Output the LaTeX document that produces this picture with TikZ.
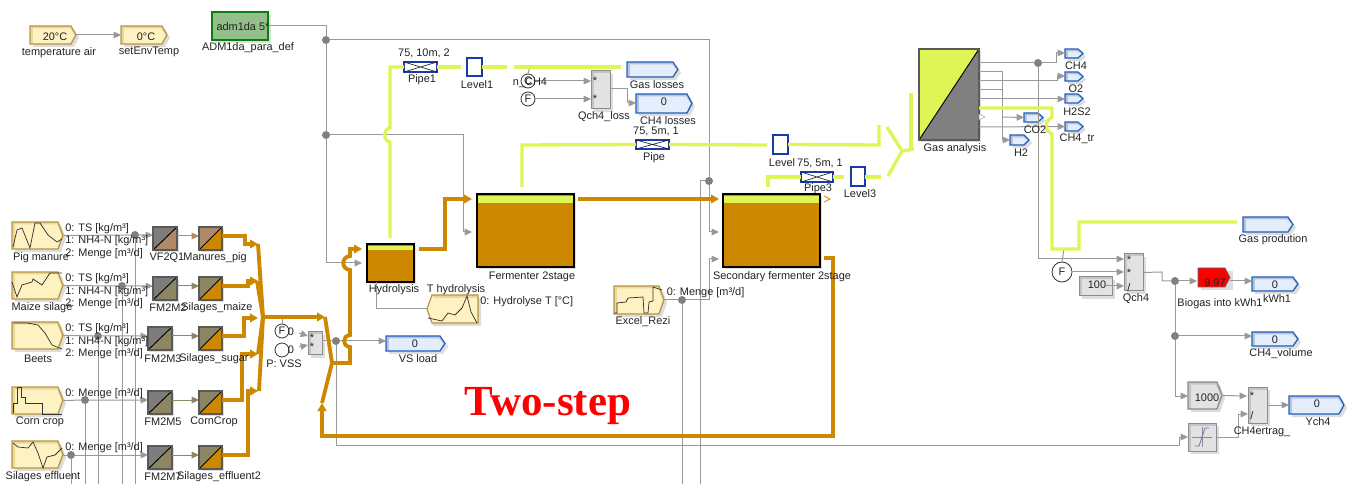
\documentclass[tikz,border=0pt]{standalone}
\usepackage{fontspec}
\setmainfont{Liberation Sans}
\newfontfamily\twofont{Liberation Serif}
\usetikzlibrary{arrows.meta}
\definecolor{gasc}{HTML}{DFF455}
\definecolor{orc}{HTML}{CC8800}
\definecolor{sigc}{HTML}{999999}
\definecolor{dotc}{HTML}{808080}
\definecolor{txtc}{HTML}{222222}
\definecolor{shad}{HTML}{DDDDDD}
\definecolor{srcf}{HTML}{FFF2C2}
\definecolor{srcb}{HTML}{EAD79E}
\definecolor{srcd}{HTML}{B8963E}
\definecolor{dspf}{HTML}{E4EDFB}
\definecolor{dspb}{HTML}{B9C3D6}
\definecolor{dspd}{HTML}{1F5FC0}
\definecolor{grayf}{HTML}{E2E2E2}
\definecolor{grayb}{HTML}{C4C4C4}
\definecolor{grayd}{HTML}{8C8C8C}
\definecolor{pipeb}{HTML}{1A3AA8}
\definecolor{brownc}{HTML}{B08A68}
\definecolor{olivec}{HTML}{8C8662}
\definecolor{darkg}{HTML}{7D7D7D}
\definecolor{admf}{HTML}{93C08A}
\definecolor{admd}{HTML}{0A7D10}
\tikzset{
  x=0.75pt,y=-0.75pt,
  lab/.style={font=\fontsize{8.2}{9}\selectfont,text=txtc,inner sep=0pt,yshift=-1pt},
  sig/.style={draw=sigc,line width=0.75pt},
  sigar/.style={sig,-{Triangle[length=5.5pt,width=5pt,fill=sigc]}},
  gasl/.style={draw=gasc,line width=2.5pt},
  liq/.style={draw=orc,line width=2.9pt},
  liqar/.style={liq,-{Triangle[length=6pt,width=6.5pt,fill=orc]}},
  sparkl/.style={draw=black!80,line width=0.55pt},
  jdot/.style={circle,fill=dotc,inner sep=0pt,minimum size=6pt,outer sep=0pt},
  ring/.style={circle,draw=black!80,fill=white,line width=0.6pt,inner sep=0pt,minimum size=#1,font=\fontsize{8.2}{9}\selectfont,text=txtc},
  anch/.style={inner sep=0pt,outer sep=0pt},
}
\newcounter{lbn}
\newcommand\lbl[3]{\stepcounter{lbn}\node[lab] (t\arabic{lbn}) at (#1,#2) {#3};}
\newcommand\lbw[3]{\stepcounter{lbn}\node[lab,anchor=west] (t\arabic{lbn}) at (#1,#2) {#3};}
\newcommand\anode[5]{\node[anch,minimum width={(#4-#2)*0.75pt},minimum height={(#5-#3)*0.75pt}] (#1) at ({(#2+#4)/2},{(#3+#5)/2}) {};}
% pentagon pointing right: name x1 y1 x2 y2 fill band draw
\newcommand\pentR[8]{%
  \fill[shad] ({#2+3},{#3+3}) -- ({#4-2},{#3+3}) -- ({#4+3},{(#3+#5)/2+3}) -- ({#4-2},{#5+3}) -- ({#2+3},{#5+3}) -- cycle;
  \fill[#7] (#2,#3) -- ({#4-5},#3) -- (#4,{(#3+#5)/2}) -- ({#4-5},#5) -- (#2,#5) -- cycle;
  \fill[#6] ({#2+3},{#3+2.5}) -- ({#4-6},{#3+2.5}) -- ({#4-1.5},{(#3+#5)/2}) -- ({#4-6},#5) -- ({#2+3},#5) -- cycle;
  \draw[#8,line width=0.9pt] (#2,#3) -- ({#4-5},#3) -- (#4,{(#3+#5)/2}) -- ({#4-5},#5) -- (#2,#5) -- cycle;
  \anode{#1}{#2}{#3}{#4}{#5}}
\newcommand\srcb[5]{\pentR{#1}{#2}{#3}{#4}{#5}{srcf}{srcb}{srcd}}
\newcommand\dspb[5]{\pentR{#1}{#2}{#3}{#4}{#5}{dspf}{dspb}{dspd}}
\newcommand\grayp[5]{\pentR{#1}{#2}{#3}{#4}{#5}{grayf}{grayb}{grayd}}
% plain rectangle with band and shadow
\newcommand\rblk[8]{%
  \fill[shad] ({#2+3},{#3+3}) rectangle ({#4+3},{#5+3});
  \fill[#7] (#2,#3) rectangle (#4,#5);
  \fill[#6] ({#2+3},{#3+2.5}) rectangle (#4,#5);
  \draw[#8,line width=0.75pt] (#2,#3) rectangle (#4,#5);
  \anode{#1}{#2}{#3}{#4}{#5}}
\newcommand\grayr[5]{\rblk{#1}{#2}{#3}{#4}{#5}{grayf}{grayb}{grayd}}
% diagonal split block
\newcommand\splitb[7]{%
  \fill[shad] ({#2+2},{#3+2}) rectangle ({#4+2},{#5+2});
  \fill[#6] (#2,#3) -- (#4,#3) -- (#2,#5) -- cycle;
  \fill[#7] (#4,#3) -- (#4,#5) -- (#2,#5) -- cycle;
  \draw[black,line width=0.7pt] (#2,#5) -- (#4,#3);
  \draw[black!65,line width=0.8pt] (#2,#3) rectangle (#4,#5);
  \anode{#1}{#2}{#3}{#4}{#5}}
% tank
\newcommand\tank[6]{%
  \fill[shad] ({#2+2},{#3+2}) rectangle ({#4+2},{#5+2});
  \fill[orc] (#2,#3) rectangle (#4,#5);
  \fill[gasc] (#2,{#3+2}) rectangle (#4,{#3+#6});
  \draw[black,line width=1.3pt] (#2,#3) rectangle (#4,#5);
  \anode{#1}{#2}{#3}{#4}{#5}}
\newcommand\levelb[5]{%
  \draw[pipeb,fill=white,line width=1.2pt] (#2,#3) rectangle (#4,#5);
  \anode{#1}{#2}{#3}{#4}{#5}}
\newcommand\pipeblk[5]{%
  \draw[pipeb,fill=white,line width=1.1pt] (#2,#3) rectangle (#4,#5);
  \draw[black!85,line width=0.5pt] (#2,#3) -- (#4,#5) (#2,#5) -- (#4,#3);
  \anode{#1}{#2}{#3}{#4}{#5}}
\begin{document}
\begin{tikzpicture}
\useasboundingbox (0,0) rectangle (1352,484);
% ---- junctions
\node[jdot] (d1) at (326,40) {};
\node[jdot] (d2) at (326,135) {};
\node[jdot] (d3) at (709,181) {};
\node[jdot] (d4) at (682,300) {};
\node[jdot] (d5) at (135,235) {};
\node[jdot] (d6) at (122,286) {};
\node[jdot] (d7) at (98,336) {};
\node[jdot] (d8) at (85,400) {};
\node[jdot] (d9) at (71,455) {};
\node[jdot] (d10) at (336,341) {};
\node[jdot] (d11) at (1038,63) {};
\node[jdot] (d12) at (1175,281) {};
\node[jdot] (d13) at (1175,336) {};
% ---- blocks
\srcb{tair}{30}{26}{76}{44}
\srcb{setenv}{121}{26}{167}{44}
\fill[shad] (215,15) rectangle (271,43);
\node[anch,draw=admd,fill=admf,line width=1.6pt,minimum width=42pt,minimum height=21pt] (adm) at (240,26) {};
\srcb{pig}{12}{222}{63}{249}
\srcb{maize}{12}{272}{63}{299}
\srcb{beets}{12}{322}{63}{349}
\srcb{corn}{12}{387}{63}{414}
\srcb{eff}{12}{441}{63}{468}
\srcb{excel}{614}{286}{664}{314}
% T hydrolysis (points left)
\fill[shad] (433,298) -- (481,298) -- (481,326) -- (433,326) -- (430,312) -- cycle;
\fill[srcf] (432,295) -- (478,295) -- (478,323) -- (432,323) -- (427,309) -- cycle;
\fill[srcb] (432,295) -- (478,295) -- (478,298) -- (434,298) -- cycle;
\draw[srcd,line width=0.9pt] (432,295) -- (478,295) -- (478,323) -- (432,323) -- (427,309) -- cycle;
\anode{thyd}{427}{295}{478}{323}
\splitb{vf}{153}{227}{177}{250}{darkg}{brownc}
\splitb{fm2}{153}{277}{177}{300}{darkg}{olivec}
\splitb{fm3}{148}{327}{172}{350}{darkg}{olivec}
\splitb{fm5}{148}{391}{172}{414}{darkg}{olivec}
\splitb{fm7}{148}{446}{172}{469}{darkg}{olivec}
\splitb{mpig}{199}{227}{222}{250}{brownc}{orc}
\splitb{smaize}{199}{277}{222}{300}{olivec}{orc}
\splitb{ssugar}{199}{327}{222}{350}{olivec}{orc}
\splitb{ccrop}{199}{391}{222}{414}{olivec}{orc}
\splitb{seff}{199}{446}{222}{469}{olivec}{orc}
\node[ring=10.5pt] (fv) at (282,331) {F};
\node[ring=10.5pt,fill=white] (pv) at (282,350) {};
\grayr{mv}{308}{332}{322}{355}
\tank{hyd}{367}{244}{414}{282}{6}
\tank{ferm}{477}{194}{574}{267}{9}
\tank{sec}{723}{194}{820}{267}{9}
\dspb{vsl}{386}{336}{445}{351}
\pipeblk{pipe1}{404}{62}{437}{72}
\levelb{lev1}{467}{58}{482}{76}
\dspb{gasl}{627}{62}{678}{77}
\node[ring=10.5pt] (cc) at (528,81) {C};
\node[ring=10.5pt] (fc) at (528,99) {F};
\grayr{ql}{591}{71}{610}{109}
\dspb{chl}{636}{94}{692}{113}
\pipeblk{pipe}{636}{140}{669}{149}
\levelb{lev}{773}{135}{788}{154}
\pipeblk{pipe3}{801}{172}{833}{182}
\levelb{lev3}{851}{167}{865}{186}
\splitb{ga}{919}{49}{979}{140}{gasc}{gray}
\dspb{ch4}{1065}{49}{1083}{58}
\dspb{o2}{1065}{72}{1083}{81}
\dspb{h2s}{1065}{94}{1083}{103}
\dspb{co2}{1024}{113}{1043}{122}
\dspb{ch4tr}{1065}{122}{1083}{131}
\dspb{h2}{1010}{135}{1029}{145}
\dspb{gprod}{1243}{217}{1293}{232}
\node[ring=15pt] (f2) at (1062,272) {F};
\grayr{c100}{1079}{277}{1112}{296}
\grayr{qch}{1124}{254}{1143}{291}
\fill[shad] (1201,271) rectangle (1233,290);
\fill[red] (1198,268) -- (1225,268) -- (1230,277.5) -- (1225,287) -- (1198,287) -- cycle;
\draw[black!60,line width=0.6pt] (1198,268) -- (1225,268) -- (1230,277.5) -- (1225,287) -- (1198,287) -- cycle;
\anode{bio}{1198}{268}{1230}{287}
\dspb{kwh}{1252}{277}{1298}{291}
\dspb{vol}{1252}{332}{1298}{346}
\grayp{k1000}{1188}{382}{1222}{409}
\grayr{ert}{1248}{387}{1267}{423}
\dspb{ych}{1289}{396}{1344}{414}
\grayr{sat}{1188}{423}{1216}{451}
\draw[black!45,line width=0.35pt] (1192,437) -- (1212,437) (1202,427) -- (1202,447);
\draw[pipeb!70,line width=0.6pt] (1195,446) -- (1199,446) -- (1205,428) -- (1209,428);
% sparklines
\draw[sparkl] (13,247) -- (17,230) -- (22,228) -- (30,248) -- (35,223) -- (40,223) -- (48,235) -- (57,242) -- (62,239);
\draw[sparkl] (12,282) -- (17,297) -- (22,285) -- (32,282) -- (33,279) -- (42,285) -- (50,273) -- (62,273);
\draw[sparkl] (13,323) -- (27,323) -- (38,325) -- (45,333) -- (52,345) -- (62,349);
\draw[sparkl] (13,413) -- (13,403) -- (17,403) -- (17,387) -- (21,387) -- (21,397) -- (25,397) -- (25,403) -- (42,403) -- (42,414) -- (62,414);
\draw[sparkl] (13,443) -- (18,447) -- (28,448) -- (33,442) -- (38,453) -- (43,468) -- (47,457) -- (55,455) -- (62,448);
\draw[sparkl] (428,318) -- (442,321) -- (448,313) -- (455,315) -- (462,308) -- (467,296) -- (471,312) -- (477,323);
\draw[sparkl] (614,313) -- (617,313) -- (617,303) -- (626,302) -- (628,298) -- (643,297) -- (644,313) -- (648,313) -- (649,302) -- (653,301) -- (653,287) -- (662,290);
% ---- free ends
\coordinate (b1) at (71,484);
\coordinate (b2) at (85,484);
\coordinate (b3) at (98,484);
\coordinate (b4) at (122,484);
\coordinate (b5) at (135,484);
\coordinate (b6) at (682,484);
\coordinate (b7) at (700,484);
\coordinate (busj) at (263,317);
\coordinate (bus2) at (325,317);
\coordinate (bus3) at (332,363);
\coordinate (recyc) at (322,403);
\coordinate (hin) at (362,249);
\coordinate (hsig) at (362,263);
\coordinate (fin1) at (472,199);
\coordinate (fin2) at (472,232);
\coordinate (sin1) at (719,199);
\coordinate (sin2) at (719,232);
\coordinate (sin3) at (719,259);
\coordinate (hout) at (419,249);
\coordinate (fout) at (578,199);
\coordinate (sout) at (824,258);
\coordinate (hgas) at (390,238);
\coordinate (fgas) at (522,187);
\coordinate (sgas) at (768,187);
\coordinate (g1) at (461,67);
\coordinate (g2) at (507,67);
\coordinate (g3) at (514,67);
\coordinate (g4) at (621,67);
\coordinate (g5) at (767,145);
\coordinate (g6) at (879,125);
\coordinate (g7) at (881,177);
\coordinate (g8) at (887,127);
\coordinate (g9) at (888,176);
\coordinate (g10) at (902,151);
\coordinate (g11) at (911,93);
\coordinate (g12) at (914,149);
\coordinate (g13) at (1237,222);
\coordinate (g14) at (1064,249);
\coordinate (g15) at (530,67);
\coordinate (g16) at (844,177);
\coordinate (v1) at (308,336);
\coordinate (v2) at (308,345);
\coordinate (v3) at (299,333);
\coordinate (v4) at (299,347);
% ---- signal lines
\draw[sigar] (tair.east) -- (setenv.west);
\draw[sig] (adm.east) -- (326,26) -- (d1) -- (d2);
\draw[sigar] (d2) -- (326,263) -- (hsig);
\draw[sig] (d1) -- (709,40) -- (d3);
\draw[sigar] (d3) -- (709,232) -- (sin2);
\draw[sig] (d3) -- (700,181) -- (b7);
\draw[sigar] (d2) -- (463,135) -- (463,232) -- (fin2);
\draw[sig] (excel.east) -- (d4);
\draw[sigar] (d4) -- (709,300) -- (709,259) -- (sin3);
\draw[sig] (d4) -- (b6);
\draw[sig] (thyd.west) -- (376,309) -- (376,282);
\draw[sigar] (pig.east) -- (d5) -- (vf.west |- d5);
\draw[sigar] (maize.east) -- (d6) -- (fm2.west |- d6);
\draw[sigar] (beets.east) -- (d7) -- (fm3.west |- d7);
\draw[sigar] (corn.east) -- (d8) -- (fm5.west |- d8);
\draw[sigar] (eff.east |- d9) -- (d9) -- (fm7.west |- d9);
\draw[sig] (d5) -- (b5);
\draw[sig] (d6) -- (b4);
\draw[sig] (d7) -- (b3);
\draw[sig] (d8) -- (b2);
\draw[sig] (d9) -- (b1);
\draw[sigar,draw=brownc,-{Triangle[length=5.5pt,width=5pt,fill=brownc]}] (vf.east |- 0,236) -- (mpig.west |- 0,236);
\draw[sigar,draw=olivec,-{Triangle[length=5.5pt,width=5pt,fill=olivec]}] (fm2.east |- 0,286) -- (smaize.west |- 0,286);
\draw[sigar,draw=olivec,-{Triangle[length=5.5pt,width=5pt,fill=olivec]}] (fm3.east |- 0,336) -- (ssugar.west |- 0,336);
\draw[sigar,draw=olivec,-{Triangle[length=5.5pt,width=5pt,fill=olivec]}] (fm5.east |- 0,400) -- (ccrop.west |- 0,400);
\draw[sigar,draw=olivec,-{Triangle[length=5.5pt,width=5pt,fill=olivec]}] (fm7.east |- 0,455) -- (seff.west |- 0,455);
\draw[sig] (fv.north) -- (282,317);
\draw[sigar] (v3) -- (v1);
\draw[sigar] (v4) -- (v2);
\draw[sig] (mv.east |- d10) -- (d10);
\draw[sigar] (d10) -- (vsl.west |- d10);
\draw[sig] (d10) -- (336,445) -- (1179,445) -- (1179,437);
\draw[sigar] (1179,437) -- (sat.west);
\draw[sig] (sat.east) -- (1238,437) -- (1238,414);
\draw[sigar] (1238,414) -- (1248,414);
\draw[sig] (g15) -- (cc.north);
\draw[sigar] (cc.east) -- (591,81);
\draw[sigar] (fc.east) -- (591,99);
\draw[sigar] (610,89) -- (627,89) -- (627,103) -- (636,103);
% gas analysis outputs
\draw[sig] (979,63) -- (d11);
\draw[sigar] (d11) -- (1056,63) -- (1056,53) -- (1065,53);
\draw[sig] (d11) -- (1038,259);
\draw[sigar] (1038,259) -- (1124,259);
\draw[sigar] (979,72) -- (1002,72) -- (1002,140) -- (1010,140);
\draw[sigar] (979,81) -- (1057,81) -- (1057,76) -- (1065,76);
\draw[sig] (979,90) -- (1002,90);
\draw[sigar] (979,99) -- (1065,99);
\draw[sigar] (1002,117) -- (co2.west);
\draw[sigar] (979,127) -- (ch4tr.west);
\draw[gray!70,fill=white,line width=0.4pt] (979,114) -- (985,117) -- (979,120) -- cycle;
\draw[sig] (g14) -- (f2.north);
\draw[sigar] (f2.east) -- (1124,272);
\draw[sigar] (1106,286) -- (1124,286);
\draw[sig] (qch.east) -- (1162,272) -- (1162,281) -- (d12);
\draw[sigar] (d12) -- (1197,281);
\draw[sigar] (1230,281) -- (1252,281);
\draw[sig] (d12) -- (d13);
\draw[sigar] (d13) -- (vol.west |- d13);
\draw[sigar] (d13) -- (1175,396) -- (1188,396);
\draw[sigar] (k1000.east) -- (1247,396);
\draw[sigar] (1267,405) -- (ych.west);
% ---- gas lines
\draw[gasl] (hgas) -- (390,142) .. controls (383,141) and (383,129) .. (390,128) -- (390,67) -- (pipe1.west |- g1);
\draw[gasl] (pipe1.east |- g1) -- (g1);
\draw[gasl] (lev1.east |- g2) -- (g2);
\draw[gasl] (g3) -- (g4);
\draw[gasl] (fgas) -- (522,145) -- (pipe.west);
\draw[gasl] (pipe.east) -- (g5);
\draw[gasl] (lev.east) -- (879,145) -- (g6);
\draw[gasl] (sgas) -- (768,177) -- (pipe3.west);
\draw[gasl] (pipe3.east) -- (g16);
\draw[gasl] (lev3.east |- g7) -- (g7);
\draw[gasl] (g8) -- (g10);
\draw[gasl] (g9) -- (g10);
\draw[gasl] (g10) -- (g12);
\draw[gasl] (g11) -- (911,150);
\draw[gasl] (979,108) -- (1052,108) -- (1052,117) .. controls (1044,122) and (1044,130) .. (1052,134) -- (1052,249) -- (1079,249) -- (1079,222) -- (g13);
% ---- liquid lines
\draw[liqar] (mpig.east |- 0,236) -- (245,236) -- (245,244) -- (258,244);
\draw[liqar] (smaize.east |- 0,286) -- (248,286) -- (248,281) -- (258,281);
\draw[liqar] (ssugar.east |- 0,336) -- (244,336) -- (244,318) -- (258,318);
\draw[liqar] (ccrop.east |- 0,400) -- (242,400) -- (242,354) -- (258,354);
\draw[liqar] (seff.east |- 0,455) -- (248,455) -- (248,391) -- (258,391);
\draw[liq,line join=round] (258,244) -- (busj);
\draw[liq] (257,281) -- (busj);
\draw[liq] (258,354) -- (busj);
\draw[liq] (259,391) -- (busj);
\draw[liqar] (busj) -- (bus2);
\draw[liq] (bus2) -- (bus3);
\draw[liq] (recyc) -- (bus3);
\draw[liqar] (bus3) -- (350,363) -- (350,347) .. controls (342,346) and (342,336) .. (350,335) -- (350,270) .. controls (341,269) and (341,257) .. (350,256) -- (350,249) -- (hin);
\draw[liqar] (hout) -- (445,249) -- (445,199) -- (fin1);
\draw[liqar,line width=2.4pt] (fout) -- (sin1);
\draw[liqar,line width=2.4pt] (sout) -- (833,258) -- (833,436) -- (322,436) -- (recyc);
\draw[orc,line width=0.6pt] (824,196) -- (830,199) -- (824,202);
% ---- texts
\lbl{55}{35}{20°C}
\lbl{146}{35}{0°C}
\lbl{59}{51}{temperature air}
\lbl{149}{51}{setEnvTemp}
\lbl{243}{25}{adm1da 5*}
\lbl{248}{46}{ADM1da\_para\_def}
\lbl{424}{52}{75, 10m, 2}
\lbl{422}{78}{Pipe1}
\lbl{477}{83}{Level1}
\lbl{530}{81}{n\_CH4}
\lbl{657}{83}{Gas losses}
\lbl{604}{115}{Qch4\_loss}
\lbl{664}{100}{0}
\lbl{668}{119}{CH4 losses}
\lbl{656}{130}{75, 5m, 1}
\lbl{654}{156}{Pipe}
\lbl{782}{161}{Level}
\lbl{820}{162}{75, 5m, 1}
\lbl{818}{187}{Pipe3}
\lbl{860}{192}{Level3}
\lbl{955}{147}{Gas analysis}
\lbl{1076}{64}{CH4}
\lbl{1076}{87}{O2}
\lbl{1077}{110}{H2S2}
\lbl{1035}{128}{CO2}
\lbl{1077}{137}{CH4\_tr}
\lbl{1021}{151}{H2}
\lbl{1273}{238}{Gas prodution}
\lbl{41}{256}{Pig manure}
\lbl{42}{306}{Maize silage}
\lbl{38}{357}{Beets}
\lbl{40}{420}{Corn crop}
\lbl{43}{475}{Silages effluent}
\lbw{65}{227}{0: TS [kg/m³]}
\lbw{65}{239}{1: NH4-N [kg/m³]}
\lbw{65}{252}{2: Menge [m³/d]}
\lbw{65}{277}{0: TS [kg/m³]}
\lbw{65}{290}{1: NH4-N [kg/m³]}
\lbw{65}{302}{2: Menge [m³/d]}
\lbw{65}{327}{0: TS [kg/m³]}
\lbw{65}{340}{1: NH4-N [kg/m³]}
\lbw{65}{352}{2: Menge [m³/d]}
\lbw{65}{392}{0: Menge [m³/d]}
\lbw{65}{446}{0: Menge [m³/d]}
\lbl{167}{256}{VF2Q1}
\lbl{215}{256}{Manures\_pig}
\lbl{168}{306}{FM2M2}
\lbl{217}{306}{Silages\_maize}
\lbl{163}{357}{FM2M3}
\lbl{214}{357}{Silages\_sugar}
\lbl{163}{420}{FM2M5}
\lbl{214}{420}{CornCrop}
\lbl{163}{475}{FM2M7}
\lbl{219}{475}{Silages\_effluent2}
\lbl{291}{330}{0}
\lbl{291}{348}{0}
\lbl{284}{362}{P: VSS}
\lbl{312}{336}{*}
\lbl{312}{345}{*}
\lbl{415}{342}{0}
\lbl{418}{357}{VS load}
\lbl{394}{288}{Hydrolysis}
\lbl{456}{288}{T hydrolysis}
\lbw{480}{300}{0: Hydrolyse T [°C]}
\lbl{532}{275}{Fermenter 2stage}
\lbl{782}{275}{Secondary fermenter 2stage}
\lbl{643}{320}{Excel\_Rezi}
\lbw{666.5}{291}{0: Menge [m³/d]}
\lbl{595}{79}{*}
\lbl{595}{97}{*}
\lbl{1129}{258}{*}
\lbl{1129}{271}{*}
\lbl{1129}{286}{/}
\lbl{1097}{283}{100}
\lbl{1136}{297}{Qch4}
\lbl{1215}{281}{9.97}
\lbl{1220}{302}{Biogas into kWh1}
\lbl{1275}{283}{0}
\lbl{1277}{297}{kWh1}
\lbl{1275}{338}{0}
\lbl{1281}{352}{CH4\_volume}
\lbl{1207}{396}{1000}
\lbl{1252}{394}{*}
\lbl{1252}{414}{/}
\lbl{1262}{430}{CH4ertrag\_}
\lbl{1317}{402}{0}
\lbl{1318}{420}{Ych4}
\node[inner sep=0pt,text=red,font=\twofont\bfseries\fontsize{32.2}{34}\selectfont] (twostep) at (548,406) {Two-step};
\end{tikzpicture}
\end{document}
